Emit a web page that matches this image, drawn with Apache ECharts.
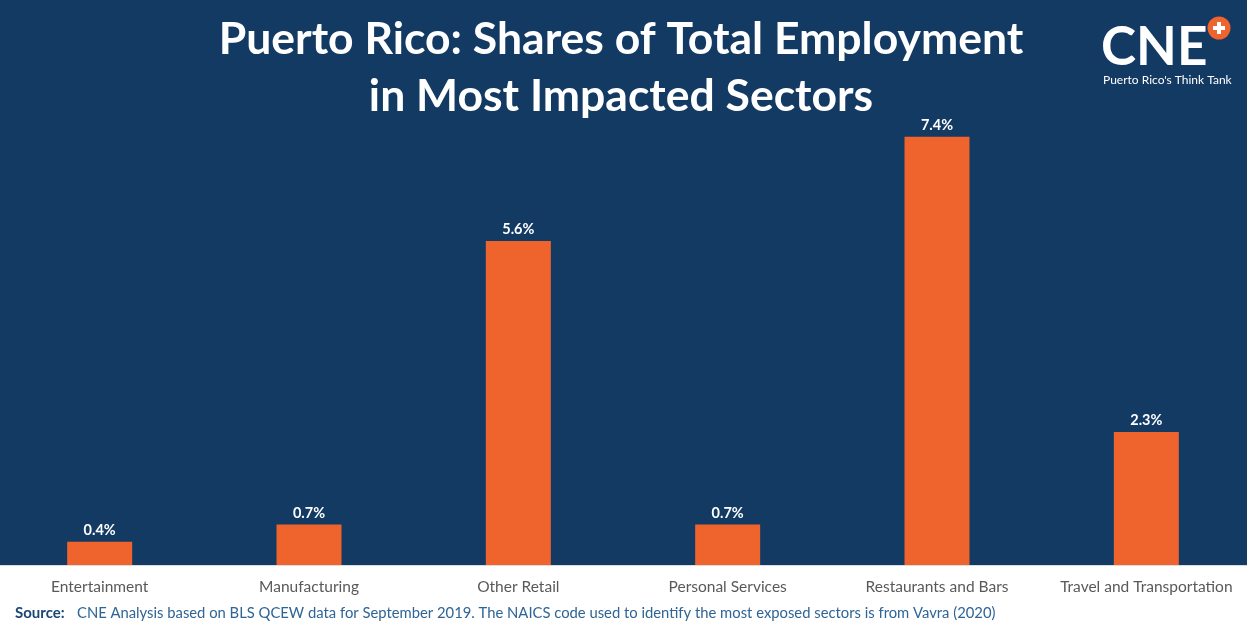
<!DOCTYPE html>
<html>
<head>
<meta charset="utf-8">
<script src="https://cdn.jsdelivr.net/npm/echarts@6/dist/echarts.min.js"></script>
<style>
  html, body { margin: 0; padding: 0; background: #ffffff; overflow: hidden; }
  /* plot area is a touch wider than the window so the outer bars sit near the edges */
  #chart { position: absolute; left: -5px; top: 0; width: 1256px; height: 629px; }
</style>
</head>
<body>
<div id="chart"></div>
<script>
// Sectors and their share of total employment (%)
const sectors = ['Entertainment', 'Manufacturing', 'Other Retail', 'Personal Services', 'Restaurants and Bars', 'Travel and Transportation'];
const shares = [0.4, 0.7, 5.6, 0.7, 7.4, 2.3];

const titleLines = ['Puerto Rico: Shares of Total Employment', 'in Most Impacted Sectors'];
const sourceLabel = 'Source:';
const sourceText = 'CNE Analysis based on BLS QCEW data for September 2019. The NAICS code used to identify the most exposed sectors is from Vavra (2020)';

const NAVY = '#133a63';
const ORANGE = '#ef632c';
const FONT = 'Lato, "Open Sans", sans-serif';
const DX = 5; // container offset

const chart = echarts.init(document.getElementById('chart'), null, { renderer: 'canvas' });

chart.setOption({
  backgroundColor: '#ffffff',
  animation: false,
  graphic: [
    // navy panel behind the plot
    { type: 'rect', z: -10, silent: true, shape: { x: 0, y: 0, width: 1256, height: 565 }, style: { fill: NAVY } },
    { type: 'rect', z: -9, silent: true, shape: { x: 0, y: 565, width: 1256, height: 1 }, style: { fill: '#d9dde3' } },
    // title
    { type: 'text', x: 621 + DX, y: 17, style: { text: titleLines[0], align: 'center', fill: '#ffffff', font: 'bold 44.5px ' + FONT } },
    { type: 'text', x: 621 + DX, y: 74, style: { text: titleLines[1], align: 'center', fill: '#ffffff', font: 'bold 44.5px ' + FONT } },
    // logo
    { type: 'text', x: 1101 + DX, y: 21, style: { text: 'CNE', fill: '#ffffff', font: 'bold 53px ' + FONT } },
    { type: 'circle', shape: { cx: 1219 + DX, cy: 28, r: 11.5 }, style: { fill: ORANGE } },
    { type: 'rect', shape: { x: 1213 + DX, y: 26, width: 12, height: 4 }, style: { fill: '#ffffff' } },
    { type: 'rect', shape: { x: 1217 + DX, y: 22, width: 4, height: 12 }, style: { fill: '#ffffff' } },
    { type: 'text', x: 1103 + DX, y: 74, style: { text: "Puerto Rico's Think Tank", fill: '#ffffff', font: '12px ' + FONT } },
    // source note
    { type: 'text', x: 15 + DX, y: 606, style: { text: sourceLabel, fill: '#1a4674', font: 'bold 15px ' + FONT } },
    { type: 'text', x: 77 + DX, y: 606, style: { text: sourceText, fill: '#2e6496', font: '14.8px ' + FONT } }
  ],
  grid: { left: 0, right: 0, top: 102, bottom: 64, containLabel: false },
  xAxis: {
    type: 'category',
    data: sectors,
    axisLine: { show: false },
    axisTick: { show: false },
    axisLabel: { color: '#595959', fontFamily: FONT, fontSize: 15.5, margin: 14, interval: 0 }
  },
  yAxis: {
    type: 'value',
    min: 0,
    max: 8,
    interval: 1,
    show: false,
    splitLine: { show: false }
  },
  series: [{
    type: 'bar',
    data: shares,
    barWidth: 65,
    itemStyle: { color: ORANGE },
    label: {
      show: true,
      position: 'top',
      distance: 4,
      color: '#ffffff',
      fontFamily: FONT,
      fontWeight: 'bold',
      fontSize: 14.5,
      formatter: p => p.value.toFixed(1) + '%'
    }
  }]
});
</script>
</body>
</html>
